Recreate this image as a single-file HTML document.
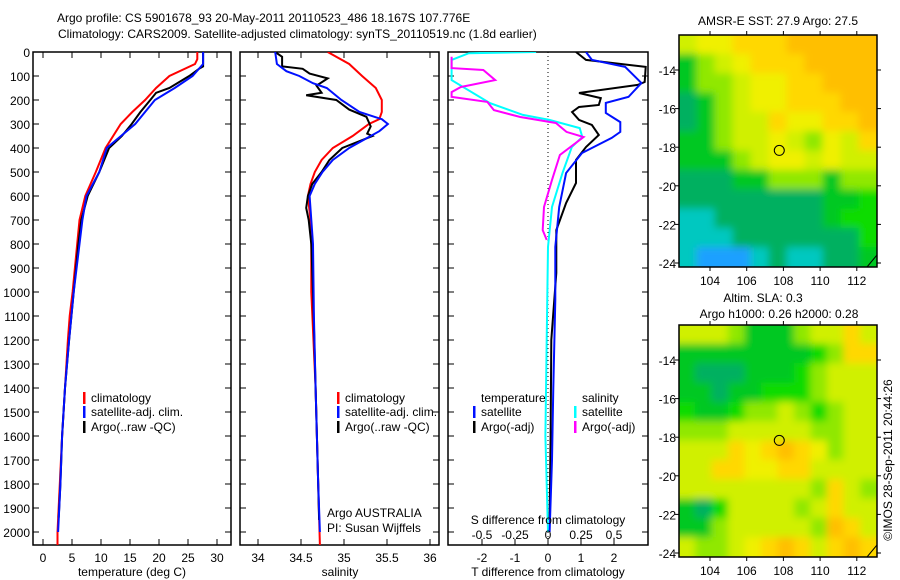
<!DOCTYPE html>
<html><head><meta charset="utf-8"><style>
html,body{margin:0;padding:0;background:#fff;}
svg{display:block;font-family:"Liberation Sans",sans-serif;font-size:12px;}
</style></head><body>
<svg id="c" width="900" height="580" viewBox="0 0 900 580" xmlns="http://www.w3.org/2000/svg">
<defs>
<clipPath id="cp1"><rect x="33" y="52" width="198" height="493"/></clipPath>
<clipPath id="cp2"><rect x="240" y="52" width="199" height="493"/></clipPath>
<clipPath id="cp3"><rect x="448" y="52" width="200" height="493"/></clipPath>
<clipPath id="cm1"><rect x="679" y="35" width="198" height="232"/></clipPath>
<clipPath id="cm2"><rect x="679" y="325" width="198" height="232"/></clipPath>
<filter id="bl" x="-10%" y="-10%" width="120%" height="120%"><feGaussianBlur stdDeviation="4"/></filter>
</defs>
<g>
<text x="57" y="22">Argo profile: CS 5901678_93 20-May-2011 20110523_486 18.167S 107.776E</text>
<text x="58" y="38">Climatology: CARS2009. Satellite-adjusted climatology: synTS_20110519.nc (1.8d earlier)</text>
</g>
<g id="g1"></g>
<g id="g2"></g>
<g id="g3"></g>
<g id="m1"></g>
<g id="m2"></g>
<text x="0" y="0" transform="translate(892,460) rotate(-90)" text-anchor="middle">©IMOS 28-Sep-2011 20:44:26</text>
</svg>
<script>
// ---- data ----
const depthTicks=[0,100,200,300,400,500,600,700,800,900,1000,1100,1200,1300,1400,1500,1600,1700,1800,1900,2000];
const tempTicks=[0,5,10,15,20,25,30];
const salTicks=[34,34.5,35,35.5,36];
const tdiffTicks=[-2,-1,0,1,2];
const sdiffTicks=[-0.5,-0.25,0,0.25,0.5];
const sdiffLabels=["-0.5","-0.25","0","0.25","0.5"];

const argoTDepth=[0,60,70,100,150,170,200,250,300,350,400,500,600,700,800,1000,1200,1400,1600,1800,1940];
const argoT=[27.6,27.6,26.9,25.2,21.8,19.5,18.5,16.8,15.3,13.6,11.4,9.7,7.7,6.6,6.1,5.3,4.5,3.8,3.3,3.0,2.7];
const climTDepth=[0,30,50,100,150,200,250,300,400,500,600,700,800,1000,1100,1200,1400,1600,1800,2000,2055];
const climT=[26.6,26.6,26.2,21.8,19.5,17.6,15.4,13.4,10.8,9.1,7.3,6.3,5.9,5.1,4.6,4.3,3.8,3.3,2.9,2.5,2.5];
const satTDepth=[0,50,100,150,200,300,400,500,600,700,1000,1100,1200,1400,1600,1800,2000];
const satT=[27.6,27.6,25.8,22.7,19.3,15.9,11.0,9.7,7.5,6.8,5.3,4.9,4.5,3.8,3.3,3.0,2.6];

const argoSDepth=[0,20,60,70,90,110,140,170,180,200,240,270,310,340,350,400,450,500,550,600,650,700,800,1000,1400,1800,1950];
const argoS=[34.2,34.28,34.28,34.52,34.60,34.81,34.68,34.74,34.56,34.91,35.06,35.26,35.31,35.27,35.33,34.98,34.83,34.74,34.63,34.58,34.56,34.59,34.62,34.64,34.67,34.70,34.71];
const climSDepth=[0,50,100,150,200,250,280,300,350,400,450,500,550,600,700,800,1000,1400,1800,2055];
const climS=[34.81,35.06,35.21,35.37,35.44,35.44,35.41,35.29,35.10,34.87,34.74,34.66,34.61,34.58,34.61,34.62,34.62,34.67,34.70,34.72];
const satSDepth=[0,50,80,100,130,150,200,250,280,300,330,360,400,450,500,550,600,700,800,1100,1400,1800,2000];
const satS=[34.2,34.22,34.33,34.48,34.64,34.80,34.97,35.18,35.44,35.51,35.41,35.26,35.06,34.87,34.75,34.66,34.60,34.62,34.64,34.65,34.67,34.70,34.72];

const argoDTDepth=[0,33,62,125,137,171,192,221,229,250,283,304,346,396,450,546,629,742,921,1200,1600,1950];
const argoDT=[0.85,1.15,2.96,2.93,2.72,0.94,1.6,1.54,0.94,0.73,0.94,1.33,1.54,1.15,0.85,0.85,0.55,0.25,0.25,0.1,0.08,0.05];
const satDTDepth=[0,33,62,129,187,212,254,292,333,358,421,504,646,812,1033,1400,1700,2000];
const satDT=[1.15,1.33,2.34,2.83,2.44,1.75,1.75,2.19,2.19,1.93,1.03,0.55,0.34,0.22,0.22,0.16,0.12,0.05];
const satDSDepth=[0,5,33,117,213,262,283,317,354,396,504,646,812,1200,1600,2000];
const satDS=[-0.09,-0.6,-0.73,-0.73,-0.44,-0.19,0.01,0.24,0.26,0.18,0.11,0.03,0.0,-0.01,-0.02,0.0];
const argoDSDepth=[20,67,75,117,146,167,187,208,242,271,296,333,354,429,533,646,742,783];
const argoDS=[-0.73,-0.73,-0.49,-0.40,-0.66,-0.73,-0.73,-0.46,-0.41,-0.21,0.06,0.14,0.27,0.09,0.03,-0.03,-0.04,-0.01];

const lonTicks=[104,106,108,110,112];
const latTicks=[14,16,18,20,22,24];
const argoLon=107.776, argoLat=18.167;
const sstGrid=[
"yYYaaaooooo",
"glyYaaaoooo",
"gllyYYaaooo",
"tglyYYaaaoo",
"tglyyaYYaao",
"gglyyYylYya",
"ggglyYYyYyy",
"tttgglllgll",
"ttttttttggG",
"ccttttttgGG",
"ccctttttttG",
"cbbbctccttg"];
const slaGrid=[
"yyylggglyyay",
"ggggggggGlaa",
"gtttgggGlyyy",
"ggtggGGGlyyy",
"GggGllylGlyy",
"lllyyyyyllyy",
"yyyaYaoaYlyy",
"yyaaYYaayyyy",
"yyyyyyyylayl",
"gtGyyyylyayy",
"gglyyyyyloay",
"yllyYaoayaoa"];
const palette={b:"#1aa0ff",c:"#00c8c0",t:"#00b060",g:"#00c820",G:"#10dc00",l:"#90e800",y:"#d0f000",Y:"#f0f000",a:"#ffd800",o:"#ffbf00"};

// ---- helpers ----
const NS="http://www.w3.org/2000/svg";
function mk(tag,attrs,parent){const e=document.createElementNS(NS,tag);for(const k in attrs)e.setAttribute(k,attrs[k]);parent.appendChild(e);return e;}
const yD=d=>52+d*0.24;
const xT=t=>43+t*5.8;
const xS=s=>258+(s-34)*86;
const xDT=v=>548+v*33;
const xDS=v=>548+v*132;

function frame(g,x0,x1,name){
  const r=mk('rect',{x:x0,y:52,width:x1-x0,height:493,fill:'none',stroke:'#000','stroke-width':1.5},g);
  
  depthTicks.forEach(d=>{
    mk('line',{x1:x0,x2:x0+6,y1:yD(d),y2:yD(d),stroke:'#000'},g);
    mk('line',{x1:x1-6,x2:x1,y1:yD(d),y2:yD(d),stroke:'#000'},g);
  });
}
function line(g,depths,vals,fx,color,name,clip,w){
  const pts=depths.map((d,i)=>fx(vals[i]).toFixed(1)+','+yD(d).toFixed(1)).join(' ');
  const p=mk('polyline',{points:pts,fill:'none',stroke:color,'stroke-width':w||2,'clip-path':'url(#'+clip+')'},g);
  
  
}
function xticks(g,ticks,labels,fx,ylab,top){
  ticks.forEach((t,i)=>{
    const x=fx(t);
    mk('line',{x1:x,x2:x,y1:545,y2:539,stroke:'#000'},g);
    if(top)mk('line',{x1:x,x2:x,y1:52,y2:58,stroke:'#000'},g);
    const tx=mk('text',{x:x,y:ylab,'text-anchor':'middle'},g);tx.textContent=labels?labels[i]:String(t);
    
    
  });
}
function legend(g,x,y,color,label){
  mk('rect',{x:x,y:y-10,width:2.5,height:12,fill:color},g);
  const t=mk('text',{x:x+8,y:y},g);t.textContent=label;
  
  
}
function txt(g,x,y,s,anchor,name){const t=mk('text',{x:x,y:y,'text-anchor':anchor||'start'},g);t.textContent=s;
  
  return t;}

// ---- panel 1 ----
const g1=document.getElementById('g1');
frame(g1,33,231,'temperature-panel');
depthTicks.forEach(d=>{const t=txt(g1,30,yD(d)+5,String(d),'end','y-tick-label');});
xticks(g1,tempTicks,null,xT,562,true);
line(g1,climTDepth,climT,xT,'#ff0000','clim-temperature-line','cp1');
line(g1,argoTDepth,argoT,xT,'#000','argo-temperature-line','cp1');
line(g1,satTDepth,satT,xT,'#0010ff','satellite-temperature-line','cp1');
legend(g1,83,402,'#ff0000','climatology');
legend(g1,83,416,'#0010ff','satellite-adj. clim.');
legend(g1,83,431,'#000','Argo(..raw -QC)');
txt(g1,132,576,'temperature (deg C)','middle','x-axis-title');

// ---- panel 2 ----
const g2=document.getElementById('g2');
frame(g2,240,439,'salinity-panel');
xticks(g2,salTicks,null,xS,562,true);
line(g2,climSDepth,climS,xS,'#ff0000','clim-salinity-line','cp2');
line(g2,argoSDepth,argoS,xS,'#000','argo-salinity-line','cp2');
line(g2,satSDepth,satS,xS,'#0010ff','satellite-salinity-line','cp2');
legend(g2,337,402,'#ff0000','climatology');
legend(g2,337,416,'#0010ff','satellite-adj. clim.');
legend(g2,337,431,'#000','Argo(..raw -QC)');
txt(g2,327,517,'Argo AUSTRALIA','start','owner-label');
txt(g2,327,532,'PI: Susan Wijffels','start','pi-label');
txt(g2,340,576,'salinity','middle','x-axis-title');

// ---- panel 3 ----
const g3=document.getElementById('g3');
frame(g3,448,648,'difference-panel');
mk('line',{x1:548,x2:548,y1:52,y2:545,stroke:'#000','stroke-dasharray':'1,3'},g3);
xticks(g3,tdiffTicks,null,xDT,562,false);
line(g3,satDSDepth,satDS,xDS,'#00ffff','satellite-salinity-diff-line','cp3');
line(g3,argoDSDepth,argoDS,xDS,'#ff00ff','argo-salinity-diff-line','cp3');
line(g3,argoDTDepth,argoDT,xDT,'#000','argo-temperature-diff-line','cp3');
line(g3,satDTDepth,satDT,xDT,'#0010ff','satellite-temperature-diff-line','cp3');
sdiffTicks.forEach((t,i)=>{txt(g3,xDS(t),539,sdiffLabels[i],'middle','s-diff-tick-label');});
txt(g3,548,524,'S difference from climatology','middle','s-diff-axis-title');
txt(g3,481,402,'temperature','start','legend-header');
txt(g3,582,402,'salinity','start','legend-header');
legend(g3,473,416,'#0010ff','satellite');
legend(g3,473,431,'#000','Argo(-adj)');
legend(g3,574,416,'#00ffff','satellite');
legend(g3,574,431,'#ff00ff','Argo(-adj)');
txt(g3,548,576,'T difference from climatology','middle','x-axis-title');

// ---- maps ----
function map(id,grid,top,bottom,lat14y,lat24y,clip,titles,name){
  const g=document.getElementById(id);
  const x0=679,x1=877;
  const lonX=l=>710+(l-104)*18.35;
  const latY=l=>lat14y+(l-14)*(lat24y-lat14y)/10;
  const cg=mk('g',{'clip-path':'url(#'+clip+')'},g);
  const bg=mk('g',{filter:'url(#bl)'},cg);
  const rows=grid.length,cols=grid[0].length;
  const cw=(x1-x0)/cols,ch=(bottom-top)/rows;
  grid.forEach((row,r)=>{for(let c=0;c<cols;c++){
    const cell=mk('rect',{x:x0+c*cw-8*(c==0)-0.5,y:top+r*ch-8*(r==0)-0.5,width:cw+1+8*(c==0)+8*(c==cols-1),height:ch+1+8*(r==0)+8*(r==rows-1),fill:palette[row[c]]},bg);
    
    
  }});
  mk('path',{d:`M${x1-10},${bottom} L${x1},${bottom-12}`,stroke:'#000',fill:'none'},cg);
  const fr=mk('rect',{x:x0,y:top,width:x1-x0,height:bottom-top,fill:'none',stroke:'#000','stroke-width':1.5},g);
  
  const ci=mk('circle',{cx:lonX(argoLon),cy:latY(argoLat),r:5,fill:'none',stroke:'#000'},g);
  
  lonTicks.forEach(l=>{const x=lonX(l);
    mk('line',{x1:x,x2:x,y1:top,y2:top-4,stroke:'#000'},g);
    mk('line',{x1:x,x2:x,y1:bottom,y2:bottom+4,stroke:'#000'},g);
    txt(g,x,bottom+18,String(l),'middle','lon-tick-label');});
  latTicks.forEach(l=>{const y=latY(l);
    mk('line',{x1:x0,x2:x0-4,y1:y,y2:y,stroke:'#000'},g);
    mk('line',{x1:x1,x2:x1+4,y1:y,y2:y,stroke:'#000'},g);
    txt(g,676,y+5,'-'+l,'end','lat-tick-label');});
  titles.forEach(t=>txt(g,t[0],t[1],t[2],'middle','map-title'));
}
map('m1',sstGrid,35,267,70,263,'cm1',[[778,25,'AMSR-E SST: 27.9 Argo: 27.5']],'sst-map');
map('m2',slaGrid,325,557,360,553,'cm2',[[763,302,'Altim. SLA: 0.3'],[779,318,'Argo h1000: 0.26 h2000: 0.28']],'sla-map');
</script>
</body></html>
